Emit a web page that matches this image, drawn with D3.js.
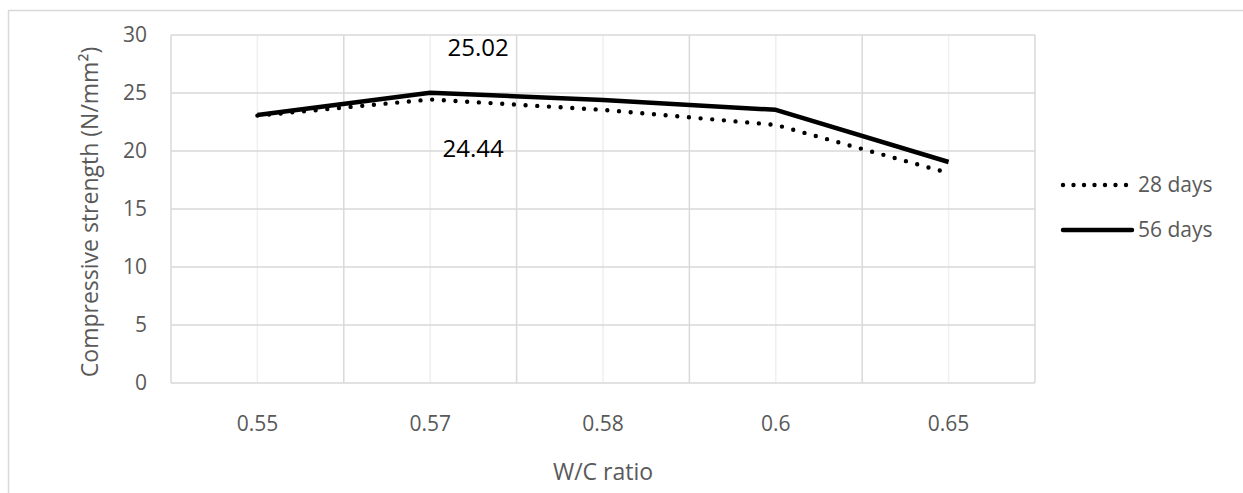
<!DOCTYPE html>
<html>
<head>
<meta charset="utf-8">
<script src="https://cdn.jsdelivr.net/npm/d3@7"></script>
<style>
  body { margin: 0; background: #fff; }
  text { font-family: "Open Sans", "Noto Sans", sans-serif; }
</style>
</head>
<body>
<svg id="chart" width="1243" height="493"></svg>
<script>
// categories on the x axis
const wcRatios = ["0.55", "0.57", "0.58", "0.6", "0.65"];
// compressive strength values (N/mm2)
const days28 = [23.05, 24.44, 23.55, 22.25, 18.1];
const days56 = [23.1, 25.02, 24.4, 23.55, 19.05];
const yTicks = [0, 5, 10, 15, 20, 25, 30];
const seriesNames = ["28 days", "56 days"];

const svg = d3.select("#chart");

// outer chart frame
svg.append("rect")
    .attr("x", 8.5).attr("y", 10.5)
    .attr("width", 1240).attr("height", 500)
    .attr("fill", "none")
    .attr("stroke", "#d9d9d9")
    .attr("stroke-width", 1.5);

const plot = {left: 171, right: 1035, top: 35, bottom: 383};

const x = d3.scaleBand()
    .domain(wcRatios)
    .range([plot.left, plot.right]);

const y = d3.scaleLinear()
    .domain([0, 30])
    .range([plot.bottom, plot.top]);

const cx = d => x(d) + x.bandwidth() / 2;

// minor vertical gridlines through category centers
svg.append("g").selectAll("line")
    .data(wcRatios)
    .enter().append("line")
    .attr("x1", d => cx(d)).attr("x2", d => cx(d))
    .attr("y1", plot.top).attr("y2", plot.bottom)
    .attr("stroke", "#efefef")
    .attr("stroke-width", 1.5);

// major vertical gridlines at category boundaries
let bounds = wcRatios.map(d => x(d)).concat([plot.right]);
svg.append("g").selectAll("line")
    .data(bounds)
    .enter().append("line")
    .attr("x1", d => d).attr("x2", d => d)
    .attr("y1", plot.top).attr("y2", plot.bottom)
    .attr("stroke", "#d9d9d9")
    .attr("stroke-width", 1.5);

// horizontal gridlines
svg.append("g").selectAll("line")
    .data(yTicks)
    .enter().append("line")
    .attr("x1", plot.left).attr("x2", plot.right)
    .attr("y1", d => y(d)).attr("y2", d => y(d))
    .attr("stroke", "#d9d9d9")
    .attr("stroke-width", 1.5);

// y axis tick labels
let yAxis = d3.axisLeft(y).tickValues(yTicks).tickSize(0).tickPadding(24);
let gy = svg.append("g")
    .attr("transform", "translate(" + plot.left + ",0)")
    .call(yAxis);
gy.select(".domain").remove();
gy.selectAll("text")
    .attr("fill", "#595959")
    .style("font-size", "21px");

// x axis tick labels
let xAxis = d3.axisBottom(x).tickSize(0).tickPadding(33);
let gx = svg.append("g")
    .attr("transform", "translate(0," + plot.bottom + ")")
    .call(xAxis);
gx.select(".domain").remove();
gx.selectAll("text")
    .attr("fill", "#595959")
    .style("font-size", "21px");

// axis titles
svg.append("text")
    .attr("x", (plot.left + plot.right) / 2)
    .attr("y", 480)
    .attr("text-anchor", "middle")
    .attr("fill", "#595959")
    .style("font-size", "23px")
    .text("W/C ratio");

svg.append("text")
    .attr("transform", "translate(98,212) rotate(-90)")
    .attr("text-anchor", "middle")
    .attr("fill", "#595959")
    .style("font-size", "23px")
    .text("Compressive strength (N/mm²)");

// series lines
let line = d3.line()
    .x((d, i) => cx(wcRatios[i]))
    .y(d => y(d));

svg.append("path")
    .datum(days28)
    .attr("d", line)
    .attr("fill", "none")
    .attr("stroke", "#000")
    .attr("stroke-width", 4.4)
    .attr("stroke-linecap", "round")
    .attr("stroke-dasharray", "0 11.7");

svg.append("path")
    .datum(days56)
    .attr("d", line)
    .attr("fill", "none")
    .attr("stroke", "#000")
    .attr("stroke-width", 4.5)
    .attr("stroke-linejoin", "round");

// data labels for the 0.57 point
svg.append("text")
    .attr("x", cx("0.57") + 48)
    .attr("y", y(days56[1]) - 37)
    .attr("text-anchor", "middle")
    .attr("fill", "#000")
    .style("font-size", "24px")
    .text(days56[1].toFixed(2));

svg.append("text")
    .attr("x", cx("0.57") + 43)
    .attr("y", y(days28[1]) + 58)
    .attr("text-anchor", "middle")
    .attr("fill", "#000")
    .style("font-size", "24px")
    .text(days28[1].toFixed(2));

// legend
let legend = svg.append("g").attr("transform", "translate(1062,185)");
seriesNames.forEach(function (name, i) {
    let row = legend.append("g").attr("transform", "translate(0," + (i * 45) + ")");
    row.append("line")
        .attr("x1", 1).attr("x2", 70)
        .attr("y1", 0).attr("y2", 0)
        .attr("stroke", "#000")
        .attr("stroke-width", i === 0 ? 4.4 : 4.5)
        .attr("stroke-linecap", "round")
        .attr("stroke-dasharray", i === 0 ? "0 10.5" : null);
    row.append("text")
        .attr("x", 76)
        .attr("y", 0)
        .attr("dy", "0.35em")
        .attr("fill", "#595959")
        .style("font-size", "21px")
        .text(name);
});
</script>
</body>
</html>
